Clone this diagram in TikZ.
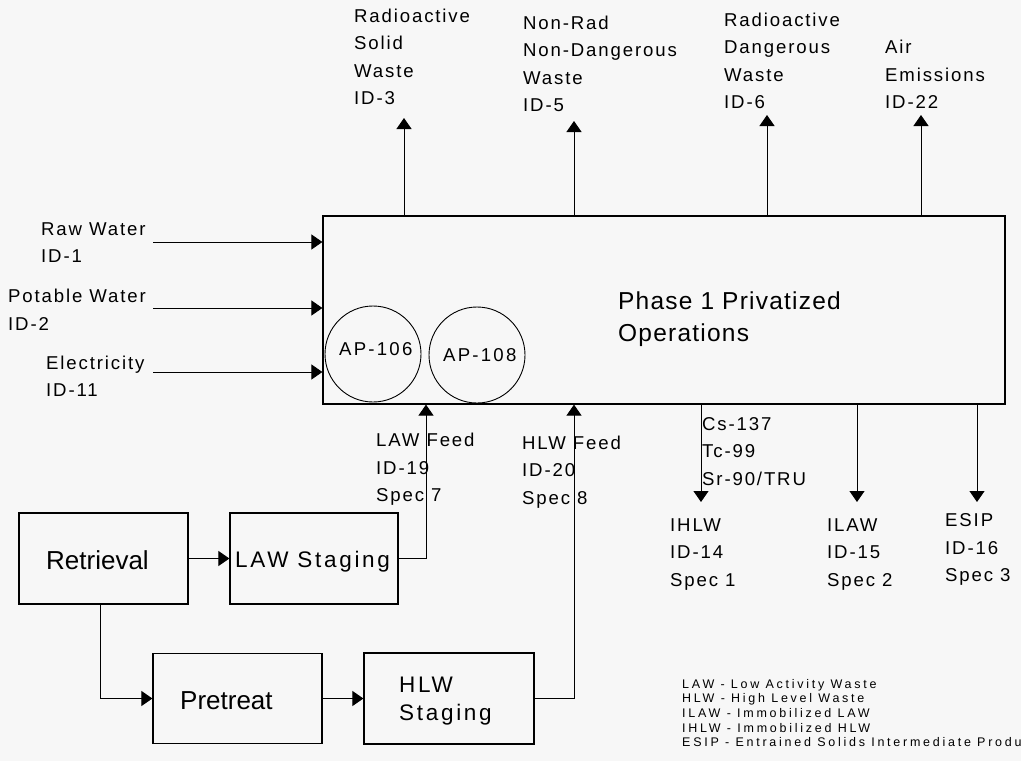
\documentclass[tikz,border=0pt]{standalone}
\usepackage{fontspec}
\setmainfont{Liberation Sans}
\newfontfamily\lsfont[LetterSpace=10]{Liberation Sans}
\newfontfamily\lgfont[LetterSpace=22]{Liberation Sans}
\newfontfamily\phfont[LetterSpace=5]{Liberation Sans}
\newfontfamily\bxfont[LetterSpace=12]{Liberation Sans}
\usetikzlibrary{arrows.meta}
\definecolor{bg}{RGB}{247,247,247}
\begin{document}
\begin{tikzpicture}[x=1pt,y=-1pt,
  lbl/.style={font=\lsfont\fontsize{18.6}{27.5}\selectfont, align=left, anchor=base west, inner sep=0pt},
  lgd/.style={font=\lgfont\fontsize{12.5}{14.6}\selectfont, align=left, anchor=base west, inner sep=0pt},
  big/.style={font=\fontsize{26}{28}\selectfont, anchor=base west, inner sep=0pt},
  stg/.style={font=\bxfont\fontsize{22.5}{28}\selectfont, align=left, anchor=base west, inner sep=0pt},
  blk/.style={draw, line width=1.2pt, inner sep=0pt},
  circ/.style={draw, circle, line width=0.9pt, inner sep=0pt, minimum size=96pt},
  arr/.style={-{Triangle[width=15pt,length=11pt]}, line width=1pt},
  ]
\fill[bg] (0,0) rectangle (1021,761);
\useasboundingbox (0,0) rectangle (1021,761);

% main box
\node[blk, minimum width=682pt, minimum height=188pt] (main) at (664,310) {};
\node[circ] (c106) at (373,354) {};
\node[circ] (c108) at (477,355) {};
\node[lbl, font=\bxfont\fontsize{18.6}{22}\selectfont] (t106) at (339,355.5) {AP-106};
\node[lbl, font=\bxfont\fontsize{18.6}{22}\selectfont] (t108) at (443,361) {AP-108};
\node[font=\phfont\fontsize{24.5}{32}\selectfont, align=left, anchor=base west, inner sep=0pt] (phase) at (618,341) {Phase 1 Privatized\\Operations};

% top outputs
\node[lbl] (l3) at (354,104.7) {Radioactive\\Solid\\Waste\\ID-3};
\node[lbl] (l5) at (523,111.7) {Non-Rad\\Non-Dangerous\\Waste\\ID-5};
\node[lbl] (l6) at (724,108.7) {Radioactive\\Dangerous\\Waste\\ID-6};
\node[lbl] (l22) at (885,108.7) {Air\\Emissions\\ID-22};
\coordinate (t3) at (404,118);
\coordinate (t5) at (574,121);
\coordinate (t6) at (767,115);
\coordinate (t22) at (921,115);
\draw[arr] (main.north -| t3) -- (t3);
\draw[arr] (main.north -| t5) -- (t5);
\draw[arr] (main.north -| t6) -- (t6);
\draw[arr] (main.north -| t22) -- (t22);

% left inputs
\node[lbl] (l1) at (41,262.7) {Raw Water\\ID-1};
\node[lbl] (l2) at (8,330) {Potable Water\\ID-2};
\node[lbl] (l11) at (46,396.7) {Electricity\\ID-11};
\coordinate (s1) at (153,242);
\coordinate (s2) at (153,308);
\coordinate (s11) at (153,372);
\draw[arr] (s1) -- (s1 -| main.west);
\draw[arr] (s2) -- (s2 -| main.west);
\draw[arr] (s11) -- (s11 -| main.west);

% bottom outputs
\node[lbl] (lcs) at (702,485) {Cs-137\\Tc-99\\Sr-90/TRU};
\node[lbl] (l14) at (670,586) {IHLW\\ID-14\\Spec 1};
\node[lbl] (l15) at (827,586) {ILAW\\ID-15\\Spec 2};
\node[lbl] (l16) at (945,581.7) {ESIP\\ID-16\\Spec 3};
\coordinate (b14) at (701,502);
\coordinate (b15) at (857,502);
\coordinate (b16) at (977,502);
\draw[arr] (main.south -| b14) -- (b14);
\draw[arr] (main.south -| b15) -- (b15);
\draw[arr] (main.south -| b16) -- (b16);

% feeds
\node[lbl] (l19) at (376,501.7) {LAW Feed\\ID-19\\Spec 7};
\node[lbl] (l20) at (522,504) {HLW Feed\\ID-20\\Spec 8};

% lower-left process
\node[blk, minimum width=169pt, minimum height=91pt] (retr) at (103.5,558.5) {};
\node[blk, minimum width=168pt, minimum height=91pt] (lawst) at (314,558.5) {};
\node[blk, minimum width=169pt, minimum height=90pt] (pretr) at (237.5,698.5) {};
\node[blk, minimum width=170pt, minimum height=91pt] (hlwst) at (449,698.5) {};
\node[big] (tretr) at (46,569) {Retrieval};
\node[stg] (tlaw) at (235,567) {LAW Staging};
\node[big] (tpre) at (180,709) {Pretreat};
\node[stg] (thlw) at (399,720) {HLW\\Staging};

\coordinate (lawin) at (426,0);
\coordinate (hlwin) at (574,0);
\draw[arr] (retr) -- (lawst);
\draw[arr] ([xshift=-3.5pt]retr.south) |- (pretr.west);
\draw[arr] (pretr) -- (hlwst);
\draw[arr] (lawst.east) -| (main.south -| lawin);
\draw[arr] (hlwst.east) -| (main.south -| hlwin);

% legend
\node[lgd] (legend) at (682,746.7) {LAW - Low Activity Waste\\HLW - High Level Waste\\ILAW - Immobilized LAW\\IHLW - Immobilized HLW\\ESIP - Entrained Solids Intermediate Produ};
\end{tikzpicture}
\end{document}
